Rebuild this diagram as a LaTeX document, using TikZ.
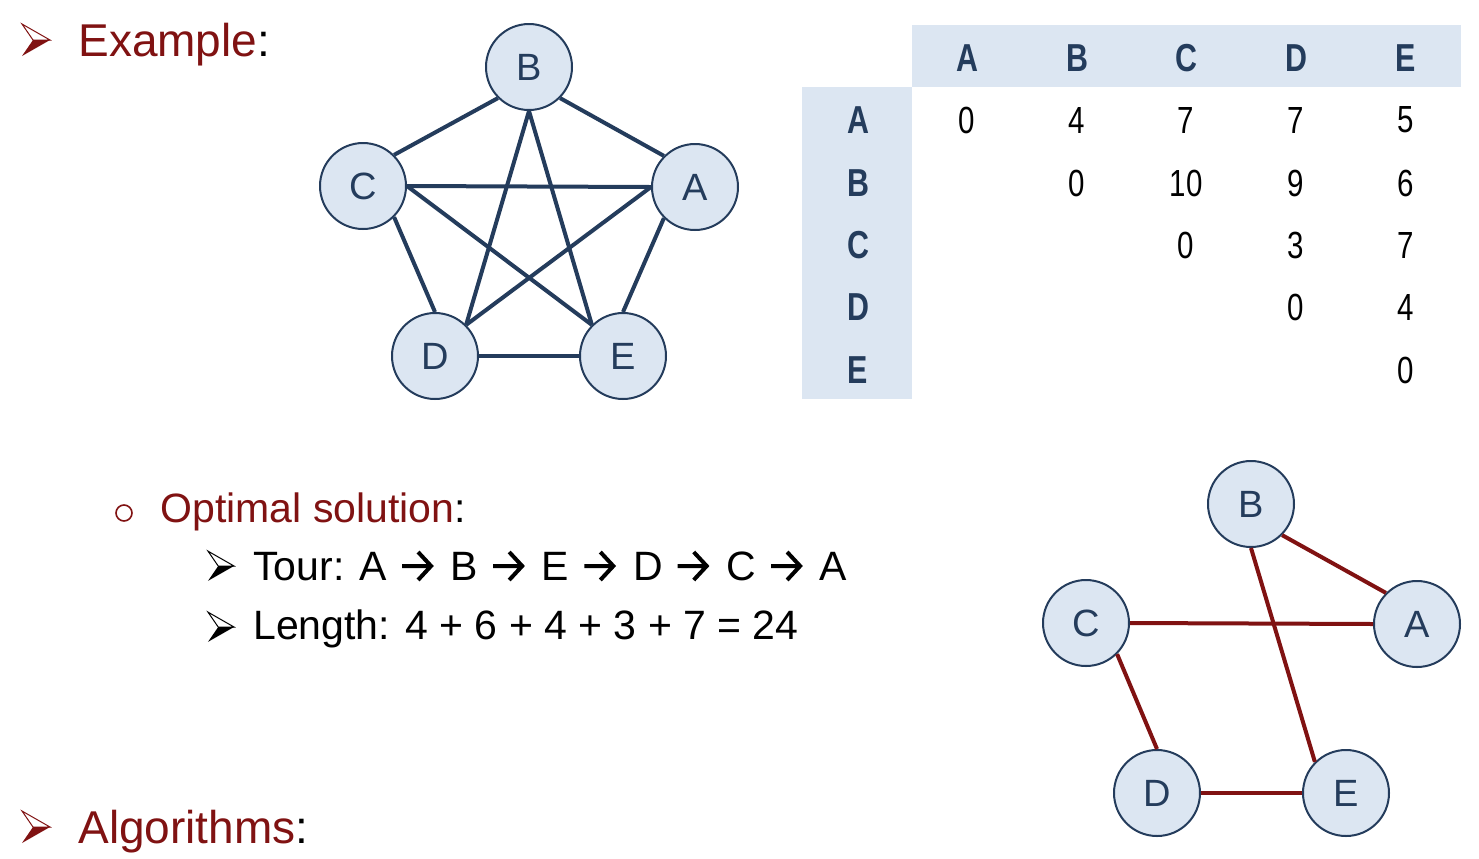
\documentclass[tikz,border=0pt]{standalone}
\usepackage{fontspec}
\usepackage{xcolor}
\setmainfont{Liberation Sans}
\newfontfamily\tabfont[FakeStretch=0.78]{Liberation Sans}
\definecolor{maroon}{RGB}{128,18,18}
\definecolor{navy}{RGB}{36,60,92}
\definecolor{paleblue}{RGB}{220,230,242}
% Pfeil in der Tour
\newcommand{\tourarrow}{\tikz[x=1pt,y=1pt,baseline=0pt]{%
  \useasboundingbox (0,0) rectangle (20.5,14);
  \draw[line width=2pt,line join=miter] (1.8,7) -- (16.3,7) (9.8,14) -- (16.3,7) -- (9.8,0);}}
% Aufzaehlungspfeil
\newcommand{\bulletarrow}[4]{%
  \begin{scope}[shift={(#1,#2)},scale=#4]
    \draw[#3,line width=0.5pt,fill=white] (-14,-16) -- (14,0) -- (-3,0) -- cycle;
    \fill[#3] (-14,16) -- (14,0) -- (-3,0) -- cycle;
  \end{scope}}

\begin{document}
\begin{tikzpicture}[x=0.5pt,y=-0.5pt,
  vertex/.style={circle,draw=navy,line width=1pt,fill=paleblue,
    minimum size=43pt,inner sep=0pt,text=navy,font=\fontsize{19pt}{22pt}\selectfont},
  edge/.style={navy,line width=2pt},
  touredge/.style={maroon,line width=2pt},
  cell/.style={font=\tabfont\fontsize{18.9pt}{22pt}\selectfont},
  head/.style={cell,font=\tabfont\bfseries\fontsize{19.5pt}{22pt}\selectfont,text=navy}]
  \useasboundingbox (0,0) rectangle (1479,858);

  % Ueberschriften
  \bulletarrow{36}{40}{maroon}{1}
  \node[anchor=base west,inner sep=0pt,font=\fontsize{23pt}{27pt}\selectfont]
    (example) at (78,56) {\textcolor{maroon}{Example}:};
  \bulletarrow{36}{827}{maroon}{1}
  \node[anchor=base west,inner sep=0pt,font=\fontsize{23pt}{27pt}\selectfont]
    (algos) at (78,843) {\textcolor{maroon}{Algorithms}:};

  % Loesung
  \draw[maroon,line width=0.8pt] (124,513) circle (8);
  \node[anchor=base west,inner sep=0pt,font=\fontsize{20.5pt}{24pt}\selectfont]
    (optimal) at (160,522) {\textcolor{maroon}{Optimal solution}:};
  \bulletarrow{221}{566}{black}{0.93}
  \node[anchor=base west,inner sep=0pt,font=\fontsize{20.5pt}{24pt}\selectfont]
    (tour) at (253,580) {Tour: A \tourarrow{} B \tourarrow{} E \tourarrow{} D \tourarrow{} C \tourarrow{} A};
  \bulletarrow{221}{627}{black}{0.93}
  \node[anchor=base west,inner sep=0pt,font=\fontsize{20.5pt}{24pt}\selectfont]
    (length) at (253,639) {Length: 4 + 6 + 4 + 3 + 7 = 24};

  % Vollstaendiger Graph
  \node[vertex] (B) at (529,67) {B};
  \node[vertex] (C) at (363,186) {C};
  \node[vertex] (A) at (695,187) {A};
  \node[vertex] (D) at (435,356) {D};
  \node[vertex] (E) at (623,356) {E};
  \draw[edge] (B.south west) -- (C.north east);
  \draw[edge] (B.south east) -- (A.north west);
  \draw[edge] (B.south) -- (D.north east);
  \draw[edge] (B.south) -- (E.north west);
  \draw[edge] (C.east) -- (A.west);
  \draw[edge] (C.east) -- (E.north west);
  \draw[edge] (A.west) -- (D.north east);
  \draw[edge] (C.south east) -- (D.north);
  \draw[edge] (A.south west) -- (E.north);
  \draw[edge] (D.east) -- (E.west);

  % Distanzmatrix
  \fill[paleblue] (912,25) rectangle (1461,87);
  \fill[paleblue] (802,87) rectangle (912,399);
  \foreach \l/\x in {A/967,B/1077,C/1186,D/1296,E/1406}
    \node[head] (h-\l) at (\x,58) {\l};
  \foreach \l/\y in {A/120,B/183,C/245,D/307,E/370}
    \node[head] (r-\l) at (858,\y) {\l};
  \foreach \r/\c/\w in {A/A/0,A/B/4,A/C/7,A/D/7,A/E/5,
                        B/B/0,B/C/10,B/D/9,B/E/6,
                        C/C/0,C/D/3,C/E/7,
                        D/D/0,D/E/4,
                        E/E/0}
    \node[cell] (m-\r-\c) at (h-\c |- r-\r) {\w};

  % Optimale Tour
  \node[vertex] (tB) at (1251,504) {B};
  \node[vertex] (tC) at (1086,623) {C};
  \node[vertex] (tA) at (1417,624) {A};
  \node[vertex] (tD) at (1157,793) {D};
  \node[vertex] (tE) at (1346,793) {E};
  \draw[touredge] (tB.south east) -- (tA.north west);
  \draw[touredge] (tB.south) -- (tE.north west);
  \draw[touredge] (tC.east) -- (tA.west);
  \draw[touredge] (tC.south east) -- (tD.north);
  \draw[touredge] (tD.east) -- (tE.west);
\end{tikzpicture}
\end{document}
